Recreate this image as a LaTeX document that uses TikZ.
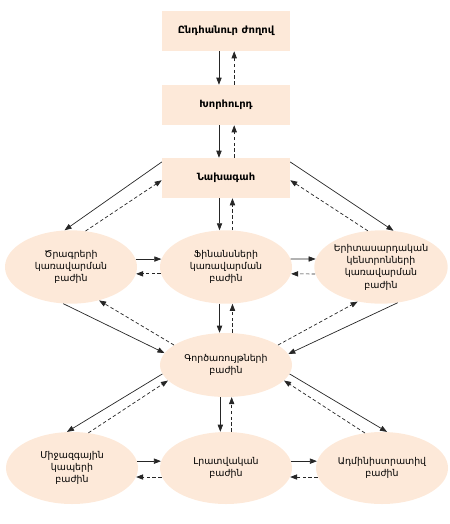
\documentclass[tikz,border=0pt]{standalone}
\usepackage{fontspec}
\setmainfont{DejaVu Sans}
\usetikzlibrary{arrows.meta,shapes.geometric}
\definecolor{peach}{HTML}{FDE9D9}

\begin{document}
\begin{tikzpicture}[x=0.03cm,y=-0.03cm,>={Triangle[length=6pt,width=4.5pt]},
 box/.style={fill=peach,minimum width=3.84cm,minimum height=1.2cm,font=\fontsize{8.5}{10}\selectfont\bfseries},
 dept/.style={ellipse,fill=peach,align=center,inner sep=0pt,minimum width=3.96cm,minimum height=2.2cm,font=\fontsize{8}{10.5}\selectfont},
 fw/.style={->,line width=0.6pt,black!85},
 bw/.style={->,line width=0.6pt,black!85,dash pattern=on 3pt off 2pt}]
\useasboundingbox (0,0) rectangle (450,524);
\node[box](g)at(226,31){Ընդհանուր ժողով};
\node[box](h)at(226,105){Խորհուրդ};
\node[box](p)at(226,178){Նախագահ};
\node[dept](l)at(71,267){Ծրագրերի\\կառավարման\\բաժին};
\node[dept](f)at(226,267){Ֆինանսների\\կառավարման\\բաժին};
\node[dept](y)at(381,267){Երիտասարդական\\կենտրոնների\\կառավարման\\բաժին};
\node[dept,minimum height=1.92cm](o)at(226,365){Գործառույթների\\բաժին};
\node[dept,minimum height=2.16cm](m)at(72,468){Միջազգային\\կապերի\\բաժին};
\node[dept,minimum height=2.16cm](i)at(226,468){Լրատվական\\բաժին};
\node[dept,minimum height=2.16cm](a)at(382,468){Ադմինիստրատիվ\\բաժին};
% top chain
\draw[fw]([xshift=-6pt]g.south)--([xshift=-6pt]h.north);
\draw[bw]([xshift=7pt]h.north)--([xshift=7pt]g.south);
\draw[fw]([xshift=-6pt]h.south)--([xshift=-6pt]p.north);
\draw[bw]([xshift=7pt]p.north)--([xshift=7pt]h.south);
% president to departments
\draw[fw](p.166)--(l.100);\draw[bw](l.68)--(p.182);
\draw[fw](f.100|-p.south)--(f.100);\draw[bw](f.80)--(f.80|-p.south);
\draw[fw](p.14)--(y.71);\draw[bw](y.110)--(p.358);
% middle row
\draw[fw](l.7)--(f.173);\draw[bw](f.186)--(l.354);
\draw[fw](f.7)--(y.173);\draw[bw](y.186)--(f.354);
% to and from operations
\draw[fw](l.258)--(o.169);\draw[bw](o.159)--(l.310);
\draw[fw](f.260)--(f.260|-o.north);\draw[bw](f.280|-o.north)--(f.280);
\draw[fw](y.295)--(o.10);\draw[bw](o.21)--(y.236);
\draw[fw](o.188)--(m.98);\draw[bw](m.65)--(o.195);
\draw[fw](o.260)--(o.260|-i.north);\draw[bw](o.280|-i.north)--(o.280);
\draw[fw](o.352)--(a.82);\draw[bw](a.116)--(o.345);
% bottom row
\draw[fw](m.6)--(i.174);\draw[bw](i.188)--(m.352);
\draw[fw](i.6)--(a.174);\draw[bw](a.188)--(i.352);
\end{tikzpicture}
\end{document}
